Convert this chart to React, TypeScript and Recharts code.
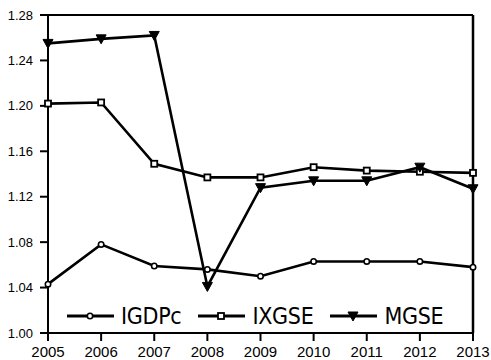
import React from "react";
import {
  LineChart,
  Line,
  XAxis,
  YAxis,
  ReferenceLine,
} from "recharts";

const YEARS = ["2005", "2006", "2007", "2008", "2009", "2010", "2011", "2012", "2013"];
const IGDPC = [1.043, 1.078, 1.059, 1.056, 1.05, 1.063, 1.063, 1.063, 1.058];
const IXGSE = [1.202, 1.203, 1.149, 1.137, 1.137, 1.146, 1.143, 1.142, 1.141];
const MGSE = [1.255, 1.259, 1.262, 1.041, 1.128, 1.134, 1.134, 1.146, 1.127];
const Y_TICKS = [1.0, 1.04, 1.08, 1.12, 1.16, 1.2, 1.24, 1.28];

type Marker = "circle" | "square" | "triangle";

function MarkerShape({ kind, cx, cy }: { kind: Marker; cx: number; cy: number }) {
  if (kind === "circle")
    return <circle cx={cx} cy={cy} r={2.7} fill="#fff" stroke="#000" strokeWidth={1.6} />;
  if (kind === "square")
    return (
      <rect x={cx - 3} y={cy - 3} width={6} height={6} fill="#fff" stroke="#000" strokeWidth={1.8} />
    );
  return (
    <polygon
      points={`${cx - 5},${cy - 4} ${cx + 5},${cy - 4} ${cx},${cy + 5}`}
      fill="#000"
      stroke="#000"
      strokeWidth={1}
    />
  );
}

const SERIES: { key: string; marker: Marker }[] = [
  { key: "IGDPc", marker: "circle" },
  { key: "IXGSE", marker: "square" },
  { key: "MGSE", marker: "triangle" },
];

const data = YEARS.map((year, i) => ({
  year,
  IGDPc: IGDPC[i],
  IXGSE: IXGSE[i],
  MGSE: MGSE[i],
}));

// legend sits inside the plot, bottom-left
function LegendBox() {
  return (
    <div style={{ position: "absolute", left: 67, top: 304, display: "flex", alignItems: "center", gap: 17 }}>
      {SERIES.map((s) => (
        <div key={s.key} style={{ display: "flex", alignItems: "center" }}>
          <svg width={47} height={12} style={{ display: "block" }}>
            <line x1={0} y1={6} x2={47} y2={6} stroke="#000" strokeWidth={3} />
            <MarkerShape kind={s.marker} cx={23} cy={6} />
          </svg>
          <span
            style={{
              marginLeft: 7,
              fontFamily: "'DejaVu Sans Condensed', 'Liberation Sans Narrow', sans-serif",
              fontSize: 23,
              lineHeight: "24px",
              letterSpacing: -0.3,
              color: "#000",
            }}
          >
            {s.key}
          </span>
        </div>
      ))}
    </div>
  );
}

export default function App() {
  return (
    <div style={{ position: "absolute", left: 0, top: 0, width: 491, height: 360, background: "#fff" }}>
      <LineChart width={491} height={360} data={data} margin={{ top: 15, right: 18, left: 0, bottom: 0 }}>
        <XAxis
          dataKey="year"
          height={27}
          axisLine={{ stroke: "#000", strokeWidth: 2 }}
          tickLine={{ stroke: "#000", strokeWidth: 2 }}
          tickSize={8}
          tickMargin={5}
          interval={0}
          tick={{ fontSize: 15, fill: "#000", fontFamily: "'Liberation Sans', Arial, sans-serif" }}
        />
        <YAxis
          width={48}
          domain={[1.0, 1.28]}
          ticks={Y_TICKS}
          allowDataOverflow
          axisLine={{ stroke: "#000", strokeWidth: 2 }}
          tickLine={{ stroke: "#000", strokeWidth: 2 }}
          tickSize={8}
          tickMargin={7}
          tickFormatter={(v: number) => v.toFixed(2)}
          tick={{ fontSize: 13, fill: "#000", fontFamily: "'Liberation Sans', Arial, sans-serif" }}
        />
        <ReferenceLine y={1.28} stroke="#000" strokeWidth={2} />
        <ReferenceLine x="2013" stroke="#000" strokeWidth={2.5} />
        {SERIES.map((s) => (
          <Line
            key={s.key}
            type="linear"
            dataKey={s.key}
            stroke="#000"
            strokeWidth={2.6}
            isAnimationActive={false}
            dot={(p: any) => <MarkerShape key={`${s.key}-${p.index}`} kind={s.marker} cx={p.cx} cy={p.cy} />}
            activeDot={false}
          />
        ))}
      </LineChart>
      <LegendBox />
    </div>
  );
}
